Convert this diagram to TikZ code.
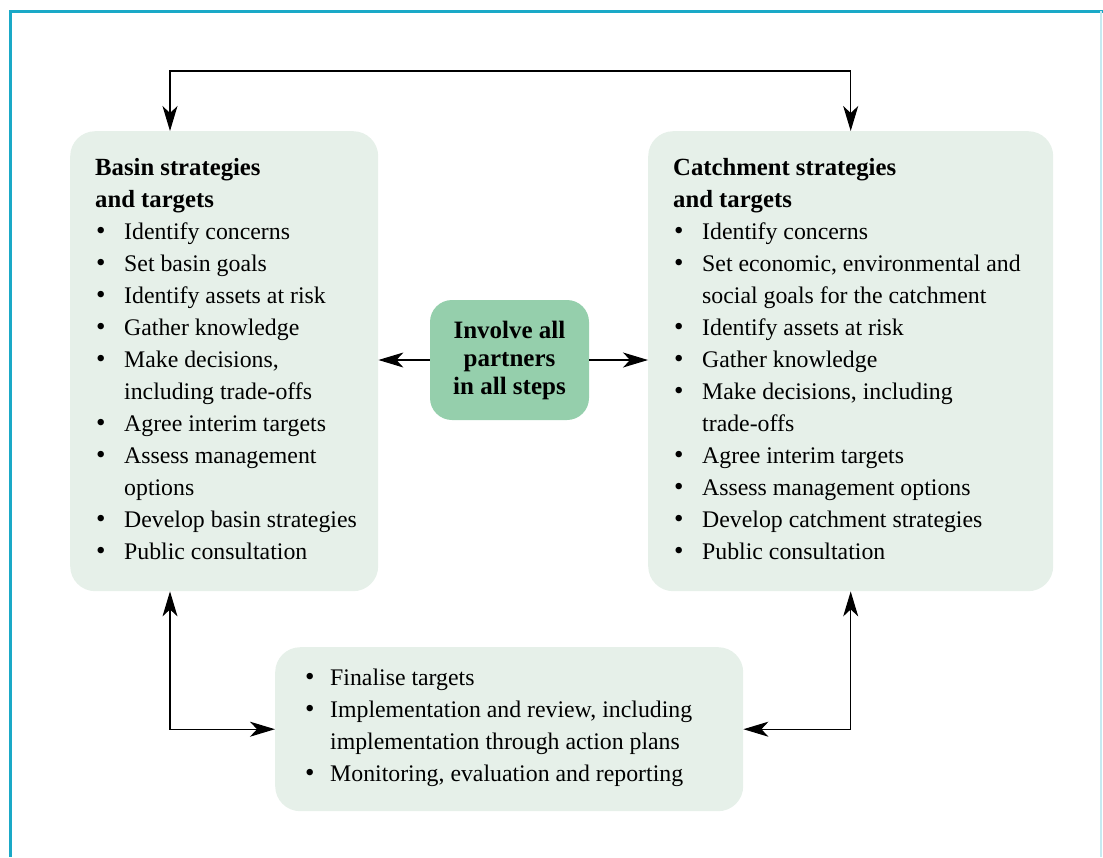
\documentclass[tikz,border=0pt]{standalone}
\usepackage{fontspec}
\setmainfont{Liberation Serif}
\usetikzlibrary{arrows.meta,positioning,calc}

\definecolor{boxgreen}{HTML}{E6F0E9}
\definecolor{midgreen}{HTML}{95CFAC}
\definecolor{frameblue}{HTML}{1AA9C7}

\newcommand{\itm}[1]{\makebox[29pt][l]{\hspace{1pt}{\fontsize{27}{32}\selectfont\textbullet}}#1}
\newcommand{\cnt}[1]{\hspace{29pt}#1}
\newcommand{\ttl}[1]{{\bfseries\fontsize{24.7}{32}\selectfont #1}}

\begin{document}
\begin{tikzpicture}[x=1pt,y=-1pt,
>={Stealth[length=25pt,width=15pt,inset=7pt]},
boxnode/.style={rectangle, fill=boxgreen, rounded corners=25pt, inner sep=0pt},
txtnode/.style={anchor=north west, inner sep=0pt, align=left, font=\fontsize{23.8}{32}\selectfont},
midnode/.style={rectangle, fill=midgreen, rounded corners=22pt, inner sep=0pt, align=center, font=\bfseries\fontsize{25}{28}\selectfont},
link/.style={line width=1.1pt, <->},
onelink/.style={line width=1.1pt, ->},
]
\useasboundingbox (0,0) rectangle (1103,857);
%Frame
\draw[frameblue, line width=3pt] (10,857) -- (10,11) -- (1103,11);
\draw[frameblue!25, line width=1.5pt] (1101,11) -- (1101,857);
%Boxes
\node[boxnode, anchor=north west, minimum width=308, minimum height=460](basin) at (70,131){};
\node[boxnode, anchor=north west, minimum width=405, minimum height=460](catch) at (648,131){};
\node[boxnode, anchor=north west, minimum width=468, minimum height=164](final) at (275,647){};
\node[midnode, minimum width=159, minimum height=120](mid) at (509.5,360){Involve all\\partners\\in all steps};
%Texts
\node[txtnode](basintxt) at ($(basin.north west)+(25,27)$){%
\ttl{Basin strategies}\\\ttl{and targets}\\
\itm{Identify concerns}\\
\itm{Set basin goals}\\
\itm{Identify assets at risk}\\
\itm{Gather knowledge}\\
\itm{Make decisions,}\\
\cnt{including trade-offs}\\
\itm{Agree interim targets}\\
\itm{Assess management}\\
\cnt{options}\\
\itm{Develop basin strategies}\\
\itm{Public consultation}};
\node[txtnode](catchtxt) at ($(catch.north west)+(25,27)$){%
\ttl{Catchment strategies}\\\ttl{and targets}\\
\itm{Identify concerns}\\
\itm{Set economic, environmental and}\\
\cnt{social goals for the catchment}\\
\itm{Identify assets at risk}\\
\itm{Gather knowledge}\\
\itm{Make decisions, including}\\
\cnt{trade-offs}\\
\itm{Agree interim targets}\\
\itm{Assess management options}\\
\itm{Develop catchment strategies}\\
\itm{Public consultation}};
\node[txtnode](finaltxt) at ($(final.north west)+(30,22)$){%
\makebox[25pt][l]{\fontsize{27}{32}\selectfont\textbullet}Finalise targets\\
\makebox[25pt][l]{\fontsize{27}{32}\selectfont\textbullet}Implementation and review, including\\
\hspace{25pt}implementation through action plans\\
\makebox[25pt][l]{\fontsize{27}{32}\selectfont\textbullet}Monitoring, evaluation and reporting};
%Connectors
\coordinate (lx) at (170,71);
\coordinate (rx) at (851,71);
\draw[link] (basin.north -| lx) -- (lx) -| (catch.north);
\draw[link] (basin.south -| lx) |- (final.west);
\draw[link] (catch.south) |- (final.east);
\draw[onelink] (mid.west) -- (mid.west -| basin.east);
\draw[onelink] (mid.east) -- (mid.east -| catch.west);
\end{tikzpicture}
\end{document}
